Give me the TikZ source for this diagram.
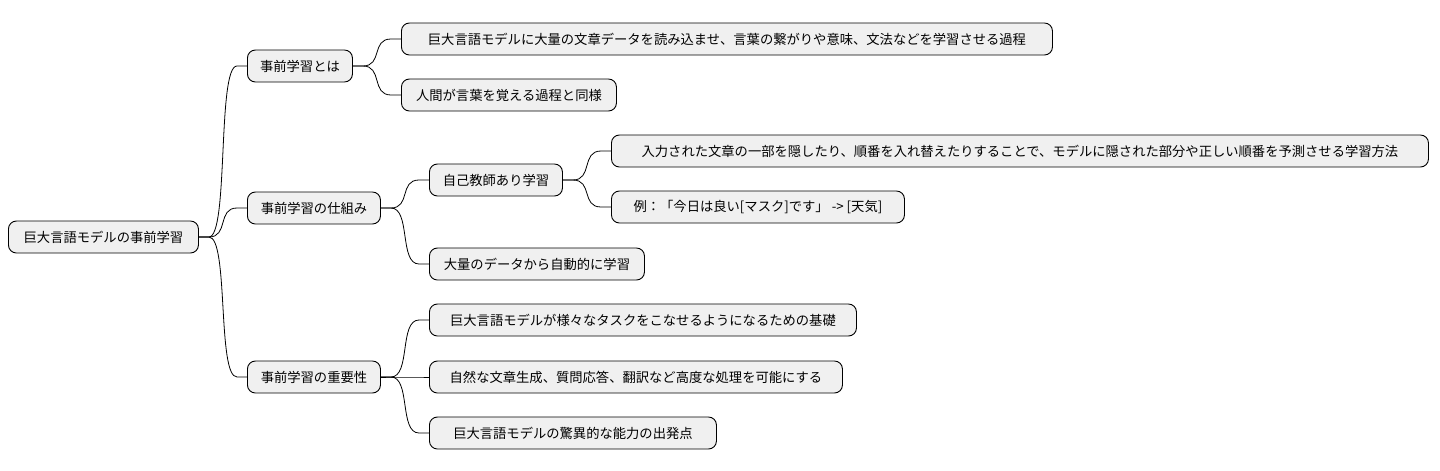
\documentclass[tikz,border=0pt]{standalone}
\usepackage{fontspec}
\usetikzlibrary{calc}
\setmainfont{Noto Sans CJK JP}
\begin{document}
\begin{tikzpicture}[x=1pt,y=-1pt,
  box/.style={draw=black,line width=0.9pt,fill=black!6,rounded corners=8pt,minimum height=32pt,anchor=west,inner sep=0pt,font=\fontsize{13.3}{15}\selectfont},
  link/.style={draw=black,line width=0.8pt}]
\useasboundingbox (0,0) rectangle (1440,471);
\node[box,minimum width=190pt] (r) at (8,237) {巨大言語モデルの事前学習};
\node[box,minimum width=105pt] (a) at (247,66) {事前学習とは};
\node[box,minimum width=133pt] (b) at (247,208) {事前学習の仕組み};
\node[box,minimum width=133pt] (c) at (247,377) {事前学習の重要性};
\node[box,minimum width=651pt] (a1) at (401,39) {巨大言語モデルに大量の文章データを読み込ませ、言葉の繋がりや意味、文法などを学習させる過程};
\node[box,minimum width=215pt] (a2) at (401,95) {人間が言葉を覚える過程と同様};
\node[box,minimum width=133pt] (b1) at (429,180) {自己教師あり学習};
\node[box,minimum width=215pt] (b2) at (429,264) {大量のデータから自動的に学習};
\node[box,minimum width=817pt] (b11) at (611,151) {入力された文章の一部を隠したり、順番を入れ替えたりすることで、モデルに隠された部分や正しい順番を予測させる学習方法};
\node[box,minimum width=293pt] (b12) at (611,207) {例：「今日は良い[マスク]です」 -> [天気]};
\node[box,minimum width=427pt] (c1) at (429,320) {巨大言語モデルが様々なタスクをこなせるようになるための基礎};
\node[box,minimum width=413pt] (c2) at (429,377) {自然な文章生成、質問応答、翻訳など高度な処理を可能にする};
\node[box,minimum width=287pt] (c3) at (429,433) {巨大言語モデルの驚異的な能力の出発点};
\foreach \p/\c in {r/a,r/b,r/c,a/a1,a/a2,b/b1,b/b2,b1/b11,b1/b12,c/c1,c/c2,c/c3}{
  \draw[link] (\p.east) -- ++(10,0) .. controls +(20,0) and +(-20,0) .. ($(\c.west)+(-10,0)$) -- (\c.west);
}
\end{tikzpicture}
\end{document}
